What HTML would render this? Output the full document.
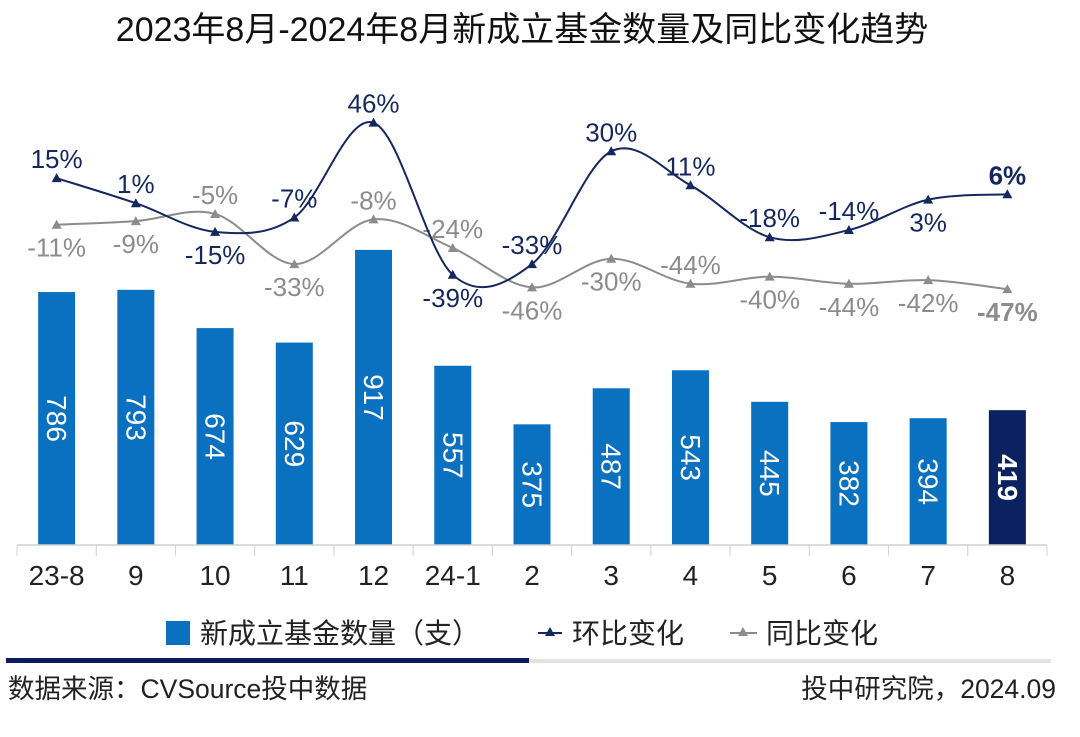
<!DOCTYPE html>
<html><head><meta charset="utf-8">
<style>
body{margin:0;background:#fff;}
svg text{font-family:"Liberation Sans","Noto Sans CJK SC",sans-serif;}
</style></head>
<body>
<svg id="chart" width="1080" height="732" xmlns="http://www.w3.org/2000/svg">
<text x="522" y="41" font-size="34" text-anchor="middle" fill="#111">2023年8月-2024年8月新成立基金数量及同比变化趋势</text>
<g id="bars"></g>
<g id="axis"></g>
<g id="lines"></g>
<g>
<rect x="166" y="621" width="24" height="24" fill="#0a70c0"/>
<text x="200" y="643" font-size="28" fill="#222">新成立基金数量（支）</text>
<line x1="538" y1="633" x2="562" y2="633" stroke="#14285f" stroke-width="2"/>
<polygon points="550,627 555,636 545,636" fill="#14285f"/>
<text x="572" y="643" font-size="28" fill="#222">环比变化</text>
<line x1="730" y1="633" x2="757" y2="633" stroke="#8c8c8c" stroke-width="2"/>
<polygon points="743,627 748,636 738,636" fill="#8c8c8c"/>
<text x="766" y="643" font-size="28" fill="#222">同比变化</text>
</g>
<rect x="6" y="658" width="523" height="5" fill="#0c1c5c"/>
<rect x="529" y="659" width="522" height="4" fill="#e3e3e3"/>
<text x="8" y="698" font-size="26.5" fill="#222">数据来源：CVSource投中数据</text>
<text x="1056" y="698" font-size="26.5" fill="#222" text-anchor="end">投中研究院，2024.09</text>
</svg>
<script>
const categories=["23-8","9","10","11","12","24-1","2","3","4","5","6","7","8"];
const counts=[786,793,674,629,917,557,375,487,543,445,382,394,419];
const momPct=[15,1,-15,-7,46,-39,-33,30,11,-18,-14,3,6];
const yoyPct=[-11,-9,-5,-33,-8,-24,-46,-30,-44,-40,-44,-42,-47];
const momLabelSide=["up","up","down","up","up","down","up","up","up","up","up","down","up"];
const yoyLabelSide=["down","down","up","down","up","up","down","down","up","down","down","down","down"];

const NS="http://www.w3.org/2000/svg";
const x0=17,step=79.23,base=545;
const xC=i=>x0+step*(i+0.5);
const yBar=v=>base-v*0.3218;
const yPct=v=>205-v*1.79;
function mk(tag,attrs,parent){const e=document.createElementNS(NS,tag);for(const k in attrs)e.setAttribute(k,attrs[k]);parent.appendChild(e);return e;}
const gB=document.getElementById('bars'),gA=document.getElementById('axis'),gL=document.getElementById('lines');

counts.forEach((v,i)=>{
  const last=i===counts.length-1;
  const r=mk('rect',{x:xC(i)-18.5,y:yBar(v),width:37,height:base-yBar(v),fill:last?'#0c2260':'#0a70c0'},gB);
  
  
  const cy=(yBar(v)+base)/2;
  const t=mk('text',{x:0,y:0,'font-size':28,fill:'#fff','text-anchor':'middle','dominant-baseline':'central','font-weight':last?'bold':'normal',transform:`translate(${xC(i)},${cy}) rotate(90)`},gB);
  t.textContent=v;
  
  
});

const ax=mk('line',{x1:x0,y1:base,x2:x0+step*13,y2:base,stroke:'#d0d0d0','stroke-width':1.5},gA);


for(let i=0;i<=13;i++){mk('line',{x1:x0+step*i,y1:base,x2:x0+step*i,y2:base+11,stroke:'#d0d0d0','stroke-width':1},gA);}
categories.forEach((c,i)=>{
  const t=mk('text',{x:xC(i),y:585,'font-size':28,fill:'#222','text-anchor':'middle'},gA);
  t.textContent=c;
  
  
});

function smooth(pts){
  let d=`M${pts[0][0]},${pts[0][1]}`;
  for(let i=0;i<pts.length-1;i++){
    const p0=pts[i-1]||pts[i],p1=pts[i],p2=pts[i+1],p3=pts[i+2]||p2;
    const c1=[p1[0]+(p2[0]-p0[0])/6,p1[1]+(p2[1]-p0[1])/6];
    const c2=[p2[0]-(p3[0]-p1[0])/6,p2[1]-(p3[1]-p1[1])/6];
    d+=` C${c1[0]},${c1[1]} ${c2[0]},${c2[1]} ${p2[0]},${p2[1]}`;
  }
  return d;
}
function series(vals,sides,color,lblColor,name){
  const pts=vals.map((v,i)=>[xC(i),yPct(v)]);
  const p=mk('path',{d:smooth(pts),fill:'none',stroke:color,'stroke-width':2},gL);
  
  
  pts.forEach((q,i)=>{
    const m=mk('polygon',{points:`${q[0]},${q[1]-5} ${q[0]+5},${q[1]+4} ${q[0]-5},${q[1]+4}`,fill:color},gL);
    
    
    const last=i===vals.length-1;
    const t=mk('text',{x:q[0],y:sides[i]==='up'?q[1]-10:q[1]+32,'font-size':26,fill:lblColor,'text-anchor':'middle','font-weight':last?'bold':'normal'},gL);
    t.textContent=vals[i]+'%';
    
    
  });
}
series(yoyPct,yoyLabelSide,'#8c8c8c','#8c8c8c','yoy');
series(momPct,momLabelSide,'#14285f','#14285f','mom');
</script>
</body></html>
